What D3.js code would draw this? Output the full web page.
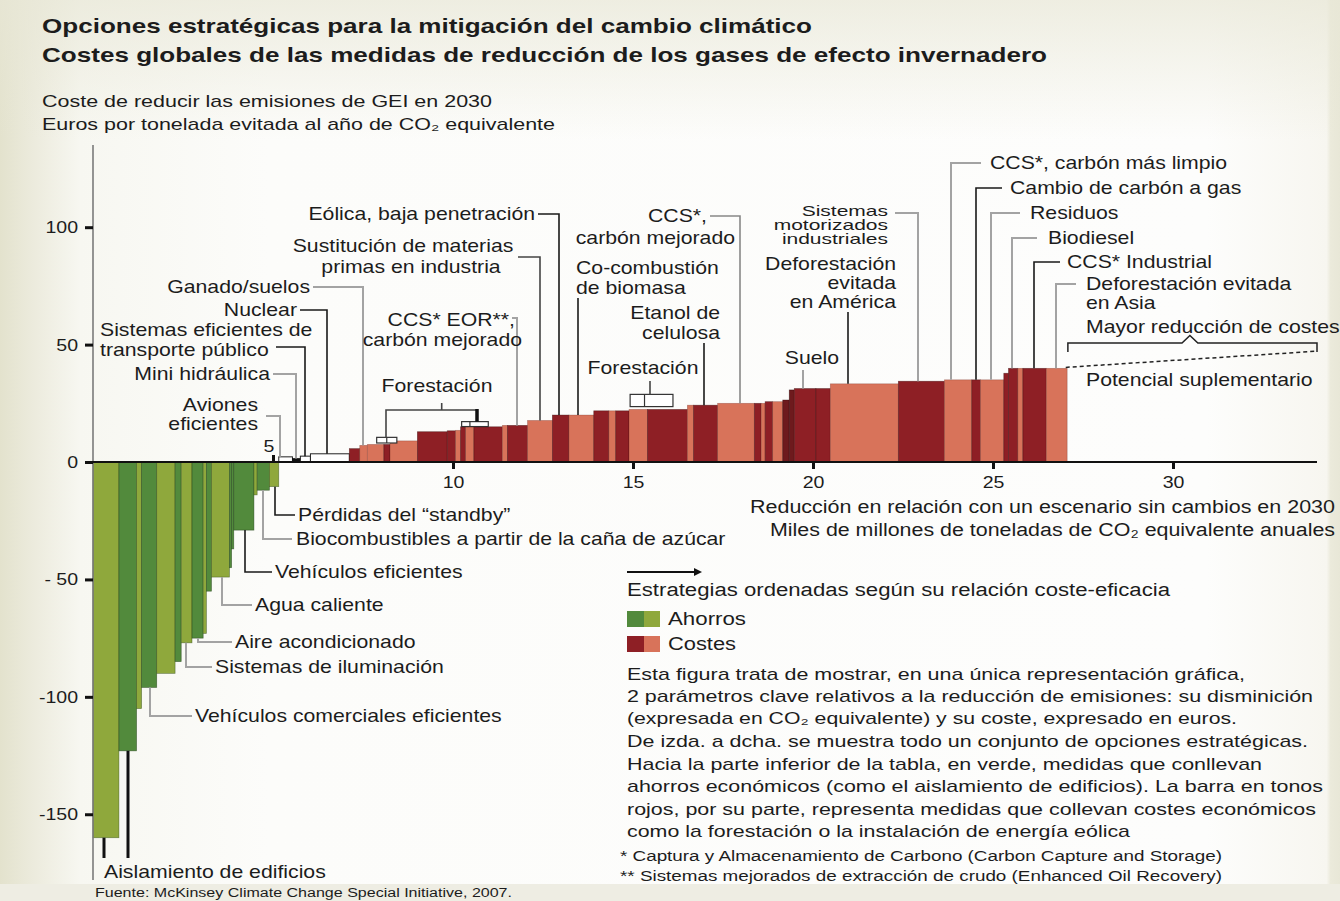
<!DOCTYPE html>
<html><head><meta charset="utf-8">
<script src="https://cdn.jsdelivr.net/npm/d3@7"></script>
<style>html,body{margin:0;padding:0;background:#fff;}svg{display:block;font-family:"Liberation Sans",Arial,sans-serif;}</style>
</head><body><svg id="c" width="1340" height="901"></svg>
<script>
// ---------- DATA ----------
// Savings measures (green): width in Gt CO2e, cost in EUR/t
const savingsWidths = [0.72,0.49,0.14,0.42,0.51,0.17,0.30,0.31,0.09,0.14,0.50,0.06,0.06,0.56,0.09,0.34,0.26];
const savingsCosts  = [-160,-123,-105,-96,-90,-85,-77,-75,-73,-55,-49,-45,-37,-29,-14,-12,-10.5];
const savingsShade  = ["l","d","l","d","l","d","l","d","l","d","l","d","d","d","l","d","l"];
// Near-zero measures
const nearZeroWidths = [0.38,0.22,0.28,1.08];
const nearZeroCosts  = [2.2,1.5,2.5,3.5];
const nearZeroShade  = ["w","k","w","w"];
// Cost measures (red)
const costWidths = [0.29,0.21,0.46,0.17,0.76,0.83,0.23,0.14,0.14,0.23,0.79,0.14,0.56,0.69,0.46,0.69,0.42,0.19,0.37,0.51,1.11,0.17,0.67,1.02,0.19,0.11,0.21,0.28,0.18,0.14,0.60,0.40,1.89,1.28,0.76,0.24,0.65,0.13,0.26,0.14,0.65,0.58];
const costValues = [5.7,7.1,7.5,7.5,9.0,12.9,13.3,13.5,15.0,15.0,15.0,15.6,15.6,17.7,20.0,20.0,21.8,21.8,21.8,22.4,22.4,24.2,24.2,25.0,25.0,25.0,25.7,25.7,26.4,30.7,31.3,31.3,33.3,34.4,35.0,35.0,35.0,37.8,39.9,39.9,39.9,39.9];
const costShade  = ["d","s","s","d","s","d","d","s","d","s","d","s","d","s","d","s","d","s","d","s","d","s","d","s","d","s","d","s","x","x","d","d","s","d","s","d","s","d","d","s","d","s"];
// Forestation ranges (white boxes): x range, cost range, divider
const forestX0 = [7.88,10.24,14.92];
const forestX1 = [8.44,10.98,16.11];
const forestDiv = [8.16,10.47,15.32];
const forestLow = [8.1,15.1,23.6];
const forestHigh = [10.5,17.2,28.8];
// Supplementary potential (dashed)
const supplX = [27.02,34.0];
const supplY = [40.3,47.2];
// Axis ticks
const xTicks = [10,15,20,25,30];
const xTickAbove = [5];
const yTicks = [100,50,0,-50,-100,-150];
const yTickLabels = ["100","50","0","- 50","-100","-150"];

// ---------- SETUP ----------
const W=1340,H=901;
const FF='"Liberation Sans",Arial,sans-serif';
const svg=d3.select('#c');
const defs=svg.append('defs');
const g1=defs.append('linearGradient').attr('id','bgH').attr('x1',0).attr('x2',1).attr('y1',0).attr('y2',0);
[[0,'#e3e2cd'],[0.025,'#ecebdd'],[0.06,'#f7f7f1'],[0.2,'#fcfcfa'],[0.9,'#fdfdfc'],[0.99,'#f7f6f0'],[0.993,'#ebeadb'],[1,'#e8e7d7']].forEach(s=>g1.append('stop').attr('offset',s[0]).attr('stop-color',s[1]));
svg.append('rect').attr('width',W).attr('height',H).attr('fill','url(#bgH)');
const g2=defs.append('linearGradient').attr('id','bgV').attr('x1',0).attr('x2',0).attr('y1',0).attr('y2',1);
[[0,'#e8e7d6',0.7],[1,'#e8e7d6',0]].forEach(s=>g2.append('stop').attr('offset',s[0]).attr('stop-color',s[1]).attr('stop-opacity',s[2]));
svg.append('rect').attr('width',W).attr('height',140).attr('fill','url(#bgV)');
svg.append('rect').attr('y',884).attr('width',W).attr('height',17).attr('fill','#eeede3');

const x=d3.scaleLinear().domain([0,34]).range([93,1317]);
const y=d3.scaleLinear().domain([-178,135]).range([880,145]);

const colors={l:'#8fa83c',d:'#528a3c',s:'#d8735a',r:'#8e1f25',x:'#6e1a1d',w:'#ffffff',k:'#111111'};
const strokeC={l:'rgba(40,70,20,0.55)',d:'rgba(30,60,20,0.6)',s:'rgba(90,20,15,0.35)',r:'rgba(50,5,5,0.5)',x:'rgba(30,0,0,0.5)',w:'#222',k:'#111'};

const bars=[];let cum=0;
function pushBars(ws,vs,sh,map){ws.forEach((w,i)=>{bars.push({x0:cum,x1:cum+w,v:vs[i],c:map?map[sh[i]]:sh[i]});cum+=w;});}
pushBars(savingsWidths,savingsCosts,savingsShade);
pushBars(nearZeroWidths,nearZeroCosts,nearZeroShade);
pushBars(costWidths,costValues,costShade,{d:'r',s:'s',x:'x'});

// ---------- TEXT HELPER ----------
function txt(s,px,py,o={}){
  const size=o.size||18,k=o.k||1.18,anchor=o.anchor||'start';
  const t=svg.append('text').attr('font-size',size).attr('font-family',FF)
    .attr('fill',o.fill||'#1c1c1c').attr('font-weight',o.weight||'normal').attr('text-anchor',anchor).text(s);
  const base=py+size*0.36;
  if(o.width){t.attr('x',px).attr('y',base).attr('textLength',o.width).attr('lengthAdjust','spacingAndGlyphs');}
  else{t.attr('transform',`translate(${px},${base}) scale(${k},1)`);}
  return t;
}

// ---------- TITLES ----------
txt('Opciones estratégicas para la mitigación del cambio climático',42,25,{size:21,weight:'bold',width:770});
txt('Costes globales de las medidas de reducción de los gases de efecto invernadero',42,54,{size:21,weight:'bold',width:1005});
txt('Coste de reducir las emisiones de GEI en 2030',42,101,{size:17,width:450});
txt('Euros por tonelada evitada al año de CO₂ equivalente',42,124,{size:17,width:513});

// ---------- BARS ----------
svg.append('g').selectAll('rect').data(bars).join('rect')
  .attr('x',d=>x(d.x0)).attr('width',d=>x(d.x1)-x(d.x0))
  .attr('y',d=>d.v>=0?y(d.v):y(0)).attr('height',d=>Math.abs(y(d.v)-y(0)))
  .attr('fill',d=>colors[d.c]).attr('stroke',d=>strokeC[d.c]).attr('stroke-width',d=>d.c==='w'?1:0.7);

// forestation boxes
const fb=svg.append('g');
forestX0.forEach((x0,i)=>{
  fb.append('rect').attr('x',x(x0)).attr('width',x(forestX1[i])-x(x0)).attr('y',y(forestHigh[i])).attr('height',y(forestLow[i])-y(forestHigh[i]))
    .attr('fill','#fff').attr('stroke','#333').attr('stroke-width',1.2);
  fb.append('line').attr('x1',x(forestDiv[i])).attr('x2',x(forestDiv[i])).attr('y1',y(forestHigh[i])).attr('y2',y(forestLow[i])).attr('stroke','#333').attr('stroke-width',1.2);
});

// ---------- AXES ----------
svg.append('line').attr('x1',x(0)).attr('x2',x(0)).attr('y1',y(135)).attr('y2',y(-178)).attr('stroke','#7a7a7a').attr('stroke-width',1.6);
const ya=svg.append('g').attr('transform',`translate(${x(0)},0)`)
  .call(d3.axisLeft(y).tickValues(yTicks).tickFormat((d,i)=>yTickLabels[i]).tickSize(8).tickPadding(5));
ya.attr('font-family',FF).attr('font-size',17);
ya.select('.domain').remove();
ya.selectAll('line').attr('stroke','#111').attr('stroke-width',3);
ya.selectAll('text').attr('fill','#1c1c1c').attr('transform','scale(1.15,1)');

svg.append('line').attr('x1',x(0)).attr('x2',x(34)).attr('y1',y(0)).attr('y2',y(0)).attr('stroke','#111').attr('stroke-width',2.2);
const xa=svg.append('g').attr('transform',`translate(0,${y(0)})`)
  .call(d3.axisBottom(x).tickValues(xTicks).tickFormat(d3.format('d')).tickSize(7).tickPadding(7));
xa.attr('font-family',FF).attr('font-size',17);
xa.select('.domain').remove();
xa.selectAll('line').attr('stroke','#111').attr('stroke-width',3);
xa.selectAll('text').attr('fill','#1c1c1c').attr('transform','scale(1.15,1)');
const xa2=svg.append('g').attr('transform',`translate(0,${y(0)})`)
  .call(d3.axisTop(x).tickValues(xTickAbove).tickFormat(d3.format('d')).tickSize(7).tickPadding(3));
xa2.attr('font-family',FF).attr('font-size',17);
xa2.select('.domain').remove();
xa2.selectAll('line').attr('stroke','#111').attr('stroke-width',3);
xa2.selectAll('text').attr('fill','#1c1c1c').attr('x',-4).attr('transform','scale(1.15,1)');

// ---------- LEADERS ----------
function barEdge(px){const u=x.invert(px);const b=bars.find(b=>u>=b.x0&&u<b.x1)||bars[bars.length-1];return y(b.v);}
const line=d3.line();
const K='#1a1a1a',G='#a3a3a3';
const topLeaders=[
 {p:[[538,214],[559,214]],c:K},
 {p:[[518,257],[540,257]],c:'#444'},
 {p:[[313,287],[363,287]],c:G},
 {p:[[300,310],[327,310]],c:K},
 {p:[[276,347],[305,347]],c:K},
 {p:[[273,374],[296,374]],c:G},
 {p:[[266,416],[280,416]],c:G},
 {p:[[512,318],[517,318]],c:G},
 {p:[[578,298]],c:K},
 {p:[[710,216],[740,216]],c:'#888'},
 {p:[[704,343]],c:K},
 {p:[[895,213],[918,213]],c:G},
 {p:[[848,312]],c:K},
 {p:[[803,370]],c:G},
 {p:[[981,163],[951,163]],c:G},
 {p:[[1002,188],[976,188]],c:K},
 {p:[[1020,213],[991,213]],c:G},
 {p:[[1037,238],[1012,238]],c:G},
 {p:[[1060,262],[1034,262]],c:K},
 {p:[[1076,284],[1056,284]],c:G}
];
topLeaders.forEach(l=>{const last=l.p[l.p.length-1];const pts=l.p.concat([[last[0],barEdge(last[0])]]);
  svg.append('path').attr('d',line(pts)).attr('fill','none').attr('stroke',l.c).attr('stroke-width',l.c===G?2:1.6);});
const bottomLeaders=[
 {vx:275,y:515,ex:295,c:K},{vx:263,y:539,ex:292,c:G},{vx:245,y:572,ex:272,c:K},{vx:222,y:605,ex:252,c:G},
 {vx:198,y:642,ex:232,c:G},{vx:186,y:667,ex:212,c:G},{vx:150,y:716,ex:192,c:G}
];
bottomLeaders.forEach(l=>{svg.append('path').attr('d',line([[l.vx,barEdge(l.vx)],[l.vx,l.y],[l.ex,l.y]])).attr('fill','none').attr('stroke',l.c).attr('stroke-width',l.c===G?2:1.6);});
[104,128].forEach(vx=>svg.append('line').attr('x1',vx).attr('x2',vx).attr('y1',barEdge(vx)).attr('y2',858).attr('stroke','#111').attr('stroke-width',3));

// forestation brackets
svg.append('path').attr('d',line([[386,437.5],[386,410],[477,410]])).attr('fill','none').attr('stroke','#444').attr('stroke-width',1.6);
svg.append('line').attr('x1',441.7).attr('x2',441.7).attr('y1',403).attr('y2',410).attr('stroke','#444').attr('stroke-width',1.6);
svg.append('line').attr('x1',477).attr('x2',477).attr('y1',409).attr('y2',y(forestHigh[1])).attr('stroke','#111').attr('stroke-width',3.5);
svg.append('line').attr('x1',650).attr('x2',650).attr('y1',381).attr('y2',y(forestHigh[2])).attr('stroke','#444').attr('stroke-width',1.6);

// supplementary potential
svg.append('path').attr('d',line(supplX.map((v,i)=>[x(v),y(supplY[i])]))).attr('fill','none').attr('stroke','#222').attr('stroke-width',1.5).attr('stroke-dasharray','4,3');
svg.append('path').attr('d',line([[x(27.08),y(46.9)],[x(27.08),y(50.7)],[x(30.25),y(50.7)],[x(30.47),y(53.9)],[x(30.69),y(50.7)],[x(34.0),y(50.7)],[x(34.0),y(46.9)]]))
  .attr('fill','none').attr('stroke','#222').attr('stroke-width',1.5);

// ---------- LABELS ----------
const labels=[
 ['Eólica, baja penetración',535,214,'end'],
 ['Sustitución de materias',403,246,'middle'],
 ['primas en industria',411,267,'middle'],
 ['Ganado/suelos',310,287,'end'],
 ['Nuclear',297,310,'end'],
 ['Sistemas  eficientes de',100,330,'start'],
 ['transporte público',100,350,'start'],
 ['Mini hidráulica',270,374,'end'],
 ['Aviones',258,405,'end'],
 ['eficientes',258,424,'end'],
 ['CCS* EOR**,',515,320,'end'],
 ['carbón mejorado',522,340,'end'],
 ['Forestación',437,386,'middle'],
 ['Co-combustión',576,268,'start'],
 ['de biomasa',576,288,'start'],
 ['CCS*,',707,216,'end'],
 ['carbón mejorado',735,238,'end'],
 ['Etanol de',720,313,'end'],
 ['celulosa',720,333,'end'],
 ['Forestación',643,368,'middle'],
 ['Deforestación',896,264,'end'],
 ['evitada',896,283,'end'],
 ['en América',896,302,'end'],
 ['Suelo',812,358,'middle'],
 ['CCS*, carbón más limpio',990,163,'start'],
 ['Cambio de carbón a gas',1010,188,'start'],
 ['Residuos',1030,213,'start'],
 ['Biodiesel',1048,238,'start'],
 ['CCS* Industrial',1067,262,'start'],
 ['Deforestación evitada',1086,284,'start'],
 ['en  Asia',1086,303,'start'],
 ['Mayor reducción de costes',1086,327,'start'],
 ['Potencial suplementario',1086,380,'start'],
 ['Pérdidas del “standby”',298,515,'start'],
 ['Biocombustibles a partir de la caña de azúcar',296,539,'start'],
 ['Vehículos eficientes',275,572,'start'],
 ['Agua caliente',255,605,'start'],
 ['Aire acondicionado',235,642,'start'],
 ['Sistemas de iluminación',215,667,'start'],
 ['Vehículos comerciales eficientes',195,716,'start'],
 ['Aislamiento de edificios',104,872,'start']
];
labels.forEach(l=>txt(l[0],l[1],l[2],{anchor:l[3]}));
[['Sistemas',211],['motorizados',225],['industriales',239]].forEach(l=>txt(l[0],888,l[1],{anchor:'end',size:14,k:1.5}));

// axis titles
txt('Reducción en relación con un escenario sin cambios en 2030',750,507,{size:18,width:585});
txt('Miles de millones de toneladas de CO₂ equivalente anuales',770,530,{size:18,width:565});

// ---------- LEGEND ----------
svg.append('line').attr('x1',627).attr('x2',696).attr('y1',572).attr('y2',572).attr('stroke','#111').attr('stroke-width',2);
svg.append('path').attr('d','M694,568L702,572L694,576Z').attr('fill','#111');
txt('Estrategias ordenadas según su relación coste-eficacia',627,590,{size:18,width:543});
[[colors.d,colors.l,619,'Ahorros',78],[colors.r,colors.s,644,'Costes',68]].forEach(r=>{
  svg.append('rect').attr('x',627).attr('y',r[2]-8).attr('width',17).attr('height',16).attr('fill',r[0]);
  svg.append('rect').attr('x',644).attr('y',r[2]-8).attr('width',16).attr('height',16).attr('fill',r[1]);
  txt(r[3],668,r[2],{size:18,width:r[4]});
});
const para=[
 'Esta figura trata de mostrar, en una única representación gráfica,',
 '2 parámetros clave relativos a la reducción de emisiones: su disminición',
 '(expresada en CO₂ equivalente) y su coste, expresado en euros.',
 'De izda. a dcha. se muestra todo un conjunto de opciones estratégicas.',
 'Hacia la parte inferior de la tabla, en verde, medidas que conllevan',
 'ahorros económicos (como el aislamiento de edificios). La barra en tonos',
 'rojos, por su parte, representa medidas que collevan costes económicos',
 'como la forestación o la instalación de energía eólica'
];
const paraY=[674,696,718,741,764,786,809,831];
const paraW=[618,686,610,681,635,696,689,503];
para.forEach((s,i)=>txt(s,627,paraY[i],{size:17,width:paraW[i]}));
txt('* Captura y Almacenamiento de Carbono (Carbon Capture and Storage)',620,856,{size:14,width:602});
txt('** Sistemas mejorados de extracción de crudo (Enhanced Oil Recovery)',620,876,{size:14,width:602});
txt('Fuente: McKinsey Climate Change Special Initiative, 2007.',95,893,{size:12,width:417});
</script></body></html>
